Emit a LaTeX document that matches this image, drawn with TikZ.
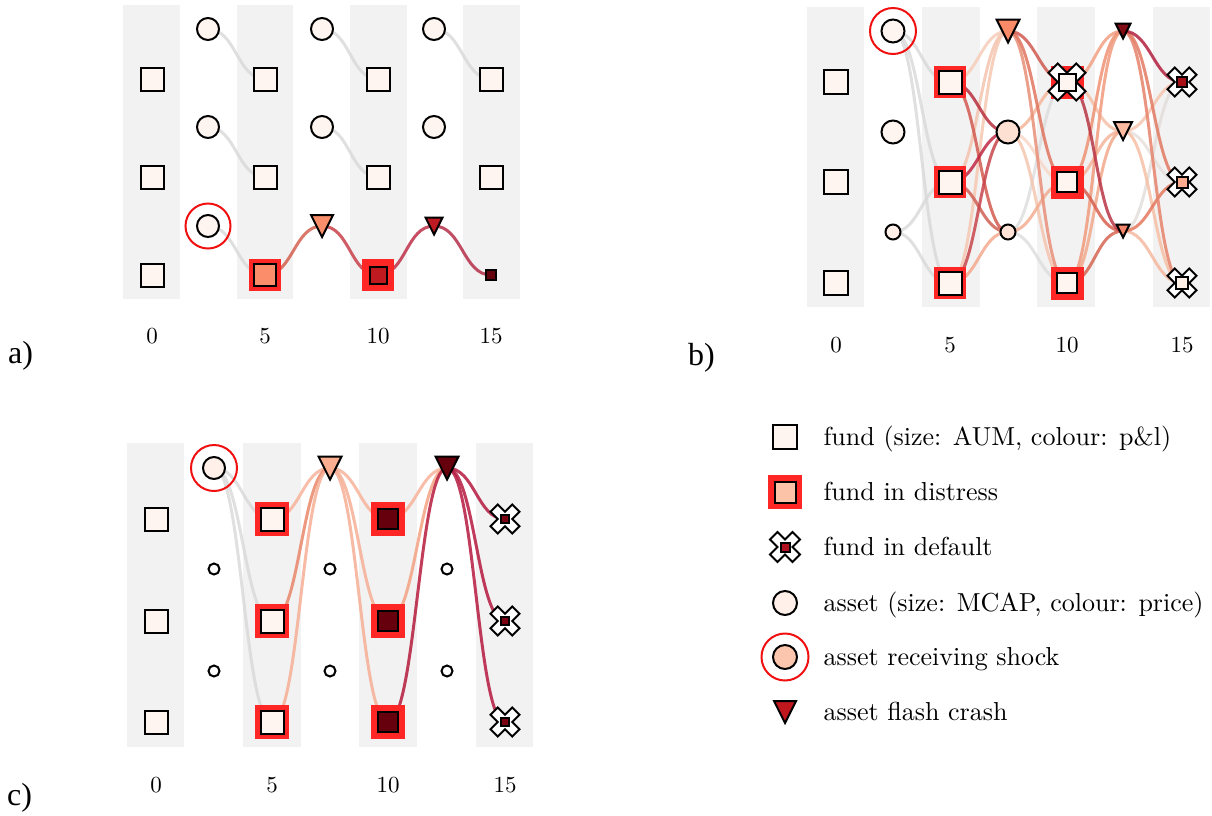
\documentclass[tikz,border=0pt]{standalone}
\usepackage{fontspec}
\newfontfamily\tms{Liberation Serif}
\pgfdeclarelayer{strips}
\pgfdeclarelayer{edges}
\pgfsetlayers{strips,edges,main}
\definecolor{stripgray}{HTML}{F2F2F2}
\definecolor{distred}{HTML}{FF2626}
\definecolor{shockred}{HTML}{F01010}
\tikzset{
  fundsq/.style={rectangle, draw=black, line width=2pt, inner sep=0pt, outer sep=0pt},
  distsq/.style={rectangle, fill=distred, draw=none, inner sep=0pt, outer sep=0pt},
  assetc/.style={circle, draw=black, line width=2pt, inner sep=0pt, outer sep=0pt},
  shockring/.style={circle, draw=shockred, line width=2pt, inner sep=0pt, minimum size=#1},
  lnk/.style={line width=3pt, opacity=0.85, line cap=round},
  ticklab/.style={font=\fontsize{10}{12}\selectfont, scale=2.3, anchor=base, inner sep=0pt},
  legtext/.style={font=\fontsize{10}{12}\selectfont, scale=2.6, anchor=base west, inner sep=0pt},
  plabel/.style={font=\tms\fontsize{32}{36}\selectfont, anchor=base west, inner sep=0pt},
}
% fund square: name, x, y, size, fill
\newcommand{\fnd}[5]{\definecolor{tmpf}{HTML}{#5}\node[fundsq,minimum size=#4pt,fill=tmpf] (#1) at (#2,#3) {};}
% distress background: name, x, y, size
\newcommand{\dst}[4]{\node[distsq,minimum size=#4pt] (#1) at (#2,#3) {};}
% asset circle: name, x, y, diameter, fill
\newcommand{\asn}[5]{\definecolor{tmpf}{HTML}{#5}\node[assetc,minimum size=#4pt,fill=tmpf] (#1) at (#2,#3) {};}
% shock ring: name, x, y, diameter
\newcommand{\shk}[4]{\node[shockring=#4pt] (#1) at (#2,#3) {};}
% flash crash triangle: name, x, y, width, fill
\newcommand{\crs}[5]{\definecolor{tmpf}{HTML}{#5}\coordinate (#1) at (#2,#3);
  \filldraw[fill=tmpf,draw=black,line width=2pt,line join=miter]
    (#2-#4/2,#3-#4/2) -- (#2+#4/2,#3-#4/2) -- (#2,#3+#4/2) -- cycle;}
% default cross: x, y, width
\newcommand{\dfx}[3]{\filldraw[fill=white,draw=black,line width=2pt,line join=miter,
    xshift=#1pt,yshift=-#2pt,scale=#3/4]
    (-1,-2) -- (0,-1) -- (1,-2) -- (2,-1) -- (1,0) -- (2,1) -- (1,2) -- (0,1)
    -- (-1,2) -- (-2,1) -- (-1,0) -- (-2,-1) -- cycle;}
% link: colour, from, to
\newcommand{\lk}[3]{\definecolor{tmpe}{HTML}{#1}\draw[lnk,draw=tmpe] (#2.center) .. controls +(28,0) and +(-28,0) .. (#3.center);}
\begin{document}
\begin{tikzpicture}[x=1pt,y=-1pt]
\useasboundingbox (0,0) rectangle (1212,815);
\begin{pgfonlayer}{strips}
  % panel a
  \fill[stripgray] (123,5) rectangle (180,299);
  \fill[stripgray] (237,5) rectangle (293,299);
  \fill[stripgray] (350,5) rectangle (407,299);
  \fill[stripgray] (463,5) rectangle (520,299);
  % panel b
  \fill[stripgray] (807,7) rectangle (864,307);
  \fill[stripgray] (922,7) rectangle (980,307);
  \fill[stripgray] (1037,7) rectangle (1095,307);
  \fill[stripgray] (1153,7) rectangle (1210,307);
  % panel c
  \fill[stripgray] (127,443) rectangle (184,747);
  \fill[stripgray] (243,443) rectangle (301,747);
  \fill[stripgray] (359,443) rectangle (417,747);
  \fill[stripgray] (476,443) rectangle (533,747);
\end{pgfonlayer}

% ================= panel a =================
\fnd{a-f0-1}{152}{79}{23}{FFF5F0}
\fnd{a-f0-2}{152}{177}{23}{FFF5F0}
\fnd{a-f0-3}{152}{275}{23}{FFF5F0}
\asn{a-a2-1}{208}{29}{22}{FFF5F0}
\asn{a-a2-2}{208}{127}{22}{FFF5F0}
\asn{a-a2-3}{208}{226}{22}{FFF5F0}
\shk{a-a2-3r}{208}{226}{45}
\fnd{a-f5-1}{265}{79}{23}{FFF5F0}
\fnd{a-f5-2}{265}{177}{23}{FFF5F0}
\dst{a-f5-3d}{265}{275}{32}
\fnd{a-f5-3}{265}{275}{22}{FC8D6A}
\asn{a-a7-1}{322}{29}{22}{FFF5F0}
\asn{a-a7-2}{322}{127}{22}{FFF5F0}
\crs{a-a7-3}{322}{226}{22}{F98E6B}
\fnd{a-f10-1}{378}{79}{23}{FFF5F0}
\fnd{a-f10-2}{378}{177}{23}{FFF5F0}
\dst{a-f10-3d}{378}{275}{32}
\fnd{a-f10-3}{378}{275}{17}{BE1A1F}
\asn{a-a12-1}{434}{29}{22}{FFF5F0}
\asn{a-a12-2}{434}{127}{22}{FFF5F0}
\crs{a-a12-3}{434}{226}{17}{BD1B21}
\fnd{a-f15-1}{491}{79}{23}{FFF5F0}
\fnd{a-f15-2}{491}{177}{23}{FFF5F0}
\fnd{a-f15-3}{491}{275}{10}{67000D}

% ================= panel b =================
\fnd{b-f0-1}{836}{82}{24}{FFF5F0}
\fnd{b-f0-2}{836}{182}{24}{FFF5F0}
\fnd{b-f0-3}{836}{283}{24}{FFF5F0}
\asn{b-a2-1}{893}{31}{23}{FFF5F0}
\shk{b-a2-1r}{893}{31}{46}
\asn{b-a2-2}{893}{132}{23}{FFF5F0}
\asn{b-a2-3}{893}{232}{15}{FFF0EA}
\dst{b-f5-1d}{950}{82}{32}
\fnd{b-f5-1}{950}{82}{23}{FFF5F0}
\dst{b-f5-2d}{950}{182}{32}
\fnd{b-f5-2}{950}{182}{23}{FFF5F0}
\dst{b-f5-3d}{950}{283}{32}
\fnd{b-f5-3}{950}{283}{23}{FFF5F0}
\crs{b-a7-1}{1008}{31}{23}{FB8A68}
\asn{b-a7-2}{1008}{132}{23}{FEE0D2}
\asn{b-a7-3}{1008}{232}{15}{FEE3D6}
\dst{b-f10-1d}{1067}{82}{33}
\dfx{1067}{82}{37}
\fnd{b-f10-1}{1067}{82}{17}{FFF5F0}
\dst{b-f10-2d}{1067}{182}{33}
\fnd{b-f10-2}{1067}{182}{20}{FFF5F0}
\dst{b-f10-3d}{1067}{283}{33}
\fnd{b-f10-3}{1067}{283}{20}{FFF5F0}
\crs{b-a12-1}{1123}{31}{15}{800D16}
\crs{b-a12-2}{1123}{131}{18}{FCBBA1}
\crs{b-a12-3}{1123}{231}{13}{F4876B}
\dfx{1182}{82}{29}
\fnd{b-f15-1}{1182}{82}{10}{A50F15}
\dfx{1182}{182}{29}
\fnd{b-f15-2}{1182}{182}{11}{FCAB8F}
\dfx{1182}{283}{29}
\fnd{b-f15-3}{1182}{283}{12}{FFF0E8}

% ================= panel c =================
\fnd{c-f0-1}{156}{519}{23}{FFF5F0}
\fnd{c-f0-2}{156}{621}{23}{FFF5F0}
\fnd{c-f0-3}{156}{722}{23}{FFF5F0}
\asn{c-a2-1}{214}{468}{22}{FFF0EA}
\shk{c-a2-1r}{214}{468}{46}
\asn{c-a2-2}{214}{569}{11}{FFFFFF}
\asn{c-a2-3}{214}{671}{11}{FFFFFF}
\dst{c-f5-1d}{272}{519}{34}
\fnd{c-f5-1}{272}{519}{23}{FFF5F0}
\dst{c-f5-2d}{272}{621}{34}
\fnd{c-f5-2}{272}{621}{23}{FFF5F0}
\dst{c-f5-3d}{272}{722}{34}
\fnd{c-f5-3}{272}{722}{23}{FFF5F0}
\crs{c-a7-1}{330}{468}{23}{FCAE91}
\asn{c-a7-2}{330}{569}{11}{FFFFFF}
\asn{c-a7-3}{330}{671}{11}{FFFFFF}
\dst{c-f10-1d}{388}{519}{34}
\fnd{c-f10-1}{388}{519}{20}{67000D}
\dst{c-f10-2d}{388}{621}{34}
\fnd{c-f10-2}{388}{621}{20}{67000D}
\dst{c-f10-3d}{388}{722}{34}
\fnd{c-f10-3}{388}{722}{20}{67000D}
\crs{c-a12-1}{447}{468}{23}{67000D}
\asn{c-a12-2}{447}{569}{11}{FFFFFF}
\asn{c-a12-3}{447}{671}{11}{FFFFFF}
\dfx{505}{519}{29}
\fnd{c-f15-1}{505}{519}{8}{7A0012}
\dfx{505}{621}{29}
\fnd{c-f15-2}{505}{621}{8}{7A0012}
\dfx{505}{722}{29}
\fnd{c-f15-3}{505}{722}{8}{7A0012}

% ================= edges =================
\begin{pgfonlayer}{edges}
  % panel a
  \lk{DADADA}{a-a2-1}{a-f5-1}
  \lk{DADADA}{a-a2-2}{a-f5-2}
  \lk{DADADA}{a-a2-3}{a-f5-3}
  \lk{DADADA}{a-a7-1}{a-f10-1}
  \lk{DADADA}{a-a7-2}{a-f10-2}
  \lk{DADADA}{a-a12-1}{a-f15-1}
  \lk{D4604F}{a-f5-3}{a-a7-3}
  \lk{C8404A}{a-a7-3}{a-f10-3}
  \lk{BE3048}{a-f10-3}{a-a12-3}
  \lk{B42E48}{a-a12-3}{a-f15-3}
  % panel b : assets 2.5 -> funds 5
  \lk{DADADA}{b-a2-1}{b-f5-1}
  \lk{DADADA}{b-a2-1}{b-f5-2}
  \lk{DADADA}{b-a2-1}{b-f5-3}
  \lk{DADADA}{b-a2-3}{b-f5-2}
  \lk{DADADA}{b-a2-3}{b-f5-3}
  % funds 5 -> assets 7.5
  \lk{F6CDB9}{b-f5-1}{b-a7-1}
  \lk{F4C4AE}{b-f5-2}{b-a7-1}
  \lk{F5C8B2}{b-f5-3}{b-a7-1}
  \lk{F4A98E}{b-f5-3}{b-a7-3}
  \lk{D25A50}{b-f5-1}{b-a7-3}
  \lk{D06055}{b-f5-2}{b-a7-3}
  \lk{C8464C}{b-f5-3}{b-a7-2}
  \lk{B8303F}{b-f5-1}{b-a7-2}
  \lk{C02A44}{b-f5-2}{b-a7-2}
  % assets 7.5 -> funds 10
  \lk{DEDEDE}{b-a7-3}{b-f10-1}
  \lk{DEDEDE}{b-a7-3}{b-f10-3}
  \lk{F7D7C8}{b-a7-2}{b-f10-2}
  \lk{F5C5B0}{b-a7-2}{b-f10-3}
  \lk{F5B59A}{b-a7-2}{b-f10-1}
  \lk{F3AD92}{b-a7-3}{b-f10-2}
  \lk{E88F78}{b-a7-1}{b-f10-3}
  \lk{E0755E}{b-a7-1}{b-f10-2}
  \lk{D05A50}{b-a7-1}{b-f10-1}
  % funds 10 -> assets 12.5
  \lk{F6C0A8}{b-f10-1}{b-a12-2}
  \lk{F4B49A}{b-f10-2}{b-a12-2}
  \lk{F2A88C}{b-f10-3}{b-a12-2}
  \lk{F2A083}{b-f10-1}{b-a12-1}
  \lk{EE9274}{b-f10-2}{b-a12-1}
  \lk{F09A7C}{b-f10-3}{b-a12-1}
  \lk{D8604F}{b-f10-2}{b-a12-3}
  \lk{D66552}{b-f10-3}{b-a12-3}
  \lk{B83545}{b-f10-1}{b-a12-3}
  % assets 12.5 -> funds 15
  \lk{E3DEDB}{b-a12-3}{b-f15-1}
  \lk{E6E0DC}{b-a12-2}{b-f15-2}
  \lk{F6C6B0}{b-a12-2}{b-f15-1}
  \lk{F6C0A6}{b-a12-2}{b-f15-3}
  \lk{F5B8A0}{b-a12-3}{b-f15-3}
  \lk{E4785E}{b-a12-3}{b-f15-2}
  \lk{E6836B}{b-a12-1}{b-f15-3}
  \lk{E27A62}{b-a12-1}{b-f15-2}
  \lk{B32040}{b-a12-1}{b-f15-1}
  % panel c
  \lk{DADADA}{c-a2-1}{c-f5-1}
  \lk{DADADA}{c-a2-1}{c-f5-2}
  \lk{DADADA}{c-a2-1}{c-f5-3}
  \lk{F7B39A}{c-f5-1}{c-a7-1}
  \lk{E9876A}{c-f5-2}{c-a7-1}
  \lk{F6AE94}{c-f5-3}{c-a7-1}
  \lk{F7B39A}{c-a7-1}{c-f10-1}
  \lk{F6AE94}{c-a7-1}{c-f10-2}
  \lk{F6AE94}{c-a7-1}{c-f10-3}
  \lk{F7B39A}{c-f10-1}{c-a12-1}
  \lk{F4A283}{c-f10-2}{c-a12-1}
  \lk{B61B3C}{c-f10-3}{c-a12-1}
  \lk{B5193F}{c-a12-1}{c-f15-1}
  \lk{B5193F}{c-a12-1}{c-f15-2}
  \lk{B5193F}{c-a12-1}{c-f15-3}
\end{pgfonlayer}

% ================= tick labels =================
\node[ticklab] (ta0) at (152,343) {0};
\node[ticklab] (ta5) at (265,343) {5};
\node[ticklab] (ta10) at (378,343) {10};
\node[ticklab] (ta15) at (491,343) {15};
\node[ticklab] (tb0) at (836,352) {0};
\node[ticklab] (tb5) at (950,352) {5};
\node[ticklab] (tb10) at (1067,352) {10};
\node[ticklab] (tb15) at (1182,352) {15};
\node[ticklab] (tc0) at (156,792) {0};
\node[ticklab] (tc5) at (272,792) {5};
\node[ticklab] (tc10) at (388,792) {10};
\node[ticklab] (tc15) at (505,792) {15};

% ================= panel labels =================
\node[plabel] (la) at (8,363) {a)};
\node[plabel] (lb) at (688,365) {b)};
\node[plabel] (lc) at (7,805) {c)};

% ================= legend =================
\fnd{l-fund}{785}{437}{24}{FFF5F0}
\dst{l-distd}{785}{492}{34}
\fnd{l-dist}{785}{492}{21}{FCC3A8}
\dfx{785}{547}{30}
\fnd{l-def}{785}{547}{9}{B01020}
\asn{l-asset}{785}{603}{24}{FFF0EA}
\asn{l-shock}{785}{657}{24}{FCC5AD}
\shk{l-shockr}{785}{657}{47}
\crs{l-crash}{785}{712}{22}{C0161E}
\node[legtext] (t1) at (823,445) {fund (size: AUM, colour: p\&l)};
\node[legtext] (t2) at (823,500) {fund in distress};
\node[legtext] (t3) at (823,555) {fund in default};
\node[legtext] (t4) at (823,611) {asset (size: MCAP, colour: price)};
\node[legtext] (t5) at (823,665) {asset receiving shock};
\node[legtext] (t6) at (823,720) {asset flash crash};
\end{tikzpicture}
\end{document}
